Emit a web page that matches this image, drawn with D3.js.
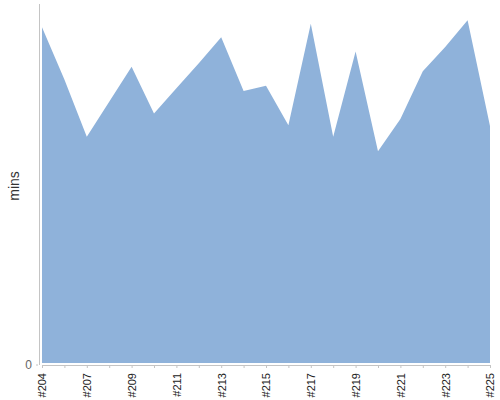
<!DOCTYPE html>
<html>
<head>
<meta charset="utf-8">
<script src="https://cdn.jsdelivr.net/npm/d3@7"></script>
<style>
  body { margin: 0; background: #fff; }
  text { font-family: "Liberation Sans", Arial, sans-serif; }
</style>
</head>
<body>
<div id="chart"></div>
<script>
// build numbers shown along the bottom
const builds = ["#204", "#206", "#207", "#208", "#209", "#210", "#211", "#212", "#213", "#214",
  "#215", "#216", "#217", "#218", "#219", "#220", "#221", "#222", "#223", "#224", "#225"];
// duration of each build, in minutes
const durations = [37.4, 31.6, 25.2, 29.1, 33.0, 27.8, 30.6, 33.4, 36.3, 30.3,
  30.9, 26.5, 37.8, 25.2, 34.7, 23.6, 27.2, 32.5, 35.2, 38.2, 26.4];
// only every other build gets a label
const labelledBuilds = builds.filter((b, i) => i % 2 === 0);
const yTicks = [0];

const svgWidth = 500, svgHeight = 400;
const margin = { top: 4, right: 10, bottom: 36, left: 39 };
const width = svgWidth - margin.left - margin.right;
const height = svgHeight - margin.top - margin.bottom;

const svg = d3.select("#chart")
  .append("svg")
  .attr("width", svgWidth)
  .attr("height", svgHeight);

const chartGroup = svg.append("g")
  .attr("transform", `translate(${margin.left}, ${margin.top})`);

const data = builds.map((b, i) => ({ build: b, mins: durations[i] }));

const x = d3.scalePoint()
  .domain(builds)
  .range([3, width]);

const y = d3.scaleLinear()
  .domain([0, 40])
  .range([height - 1, 0]);

// the filled area
const area = d3.area()
  .x(d => x(d.build))
  .y0(y(0))
  .y1(d => y(d.mins));

chartGroup.append("path")
  .datum(data)
  .attr("fill", "#8fb2da")
  .attr("d", area);

// x axis: a tick for every build, a label on every other one
const xAxis = chartGroup.append("g")
  .attr("transform", `translate(0, ${height + 1})`)
  .call(d3.axisBottom(x).tickSize(3).tickPadding(6)
    .tickFormat(d => labelledBuilds.includes(d) ? d : ""));

xAxis.select(".domain").attr("stroke", "#c4c4c4");
xAxis.selectAll(".tick line").attr("stroke", "#c4c4c4");
xAxis.selectAll("text")
  .attr("transform", "rotate(-90)")
  .attr("x", -8)
  .attr("y", 0)
  .attr("dy", "0.35em")
  .style("text-anchor", "end")
  .attr("fill", "#222")
  .style("font-size", "11px");

// y axis: just the line and the zero
const yAxis = chartGroup.append("g")
  .call(d3.axisLeft(y).tickValues(yTicks).tickSize(3).tickPadding(4));

yAxis.select(".domain")
  .attr("stroke", "#c4c4c4")
  .attr("d", `M0.5,0V${height + 1}`);
yAxis.selectAll(".tick")
  .attr("transform", `translate(0, ${height + 1})`);
yAxis.selectAll(".tick line").attr("stroke", "#c4c4c4").attr("x1", -1);
yAxis.selectAll(".tick text")
  .attr("fill", "#666")
  .style("font-size", "12px");

// axis title
chartGroup.append("text")
  .attr("transform", "rotate(-90)")
  .attr("x", -(height / 2) - 2)
  .attr("y", -20)
  .style("text-anchor", "middle")
  .style("font-size", "14px")
  .attr("fill", "#333")
  .text("mins");
</script>
</body>
</html>
